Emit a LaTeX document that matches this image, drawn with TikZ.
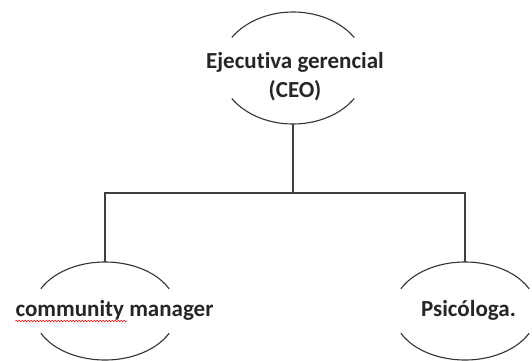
\documentclass[tikz,border=0pt]{standalone}
\usepackage{fontspec}
\setmainfont{Carlito}[Ligatures={NoCommon}]
\usetikzlibrary{calc,shapes.geometric,decorations.pathmorphing}
\definecolor{OrgInk}{HTML}{333333}
\definecolor{OrgLine}{HTML}{404040}
% oval cut open at both sides: node, x radius, y radius, cut angle
\newcommand{\cutoval}[4]{%
  \draw[OrgInk,line width=1.1pt]
    ($(#1.center)+(#4:#2 and #3)$) arc[start angle=#4,end angle=180-#4,x radius=#2,y radius=#3]
    ($(#1.center)+(180+#4:#2 and #3)$) arc[start angle=180+#4,end angle=360-#4,x radius=#2,y radius=#3];}

\begin{document}
\begin{tikzpicture}[x=1pt,y=1pt,
    oval/.style={ellipse,draw=none,inner sep=0pt,outer sep=0pt},
    role/.style={inner sep=0pt,align=center,text=black!85,font=\bfseries\fontsize{23}{29}\selectfont},
    link/.style={OrgLine,line width=1.2pt}
  ]
    \useasboundingbox (0,0) rectangle (532,360);
    \node[oval,minimum width=146pt,minimum height=112pt] (ceo) at (293,292) {};
    \node[oval,minimum width=144pt,minimum height=98pt] (cm) at (105,49) {};
    \node[oval,minimum width=144pt,minimum height=98pt] (psi) at (465,49) {};
    \cutoval{ceo}{73pt}{56pt}{33}
    \cutoval{cm}{72pt}{49pt}{27}
    \cutoval{psi}{72pt}{49pt}{27}
    \node[role] (ceotext) at (295,283.5) {Ejecutiva gerencial\\(CEO)};
    \node[role,anchor=base] (cmtext) at (114.5,44) {community manager};
    \node[role,anchor=base] (psitext) at (468.5,44) {Psicóloga.};
    \draw[red,line width=0.5pt,decorate,decoration={snake,amplitude=0.7pt,segment length=3pt}]
      ([yshift=-5pt]cmtext.base west) -- ++(112pt,0);
    \coordinate (fork) at (293,167);
    \draw[link] (ceo.south) -- (fork);
    \draw[link] (cm.north) |- (fork) -| (psi.north);
  \end{tikzpicture}
\end{document}
